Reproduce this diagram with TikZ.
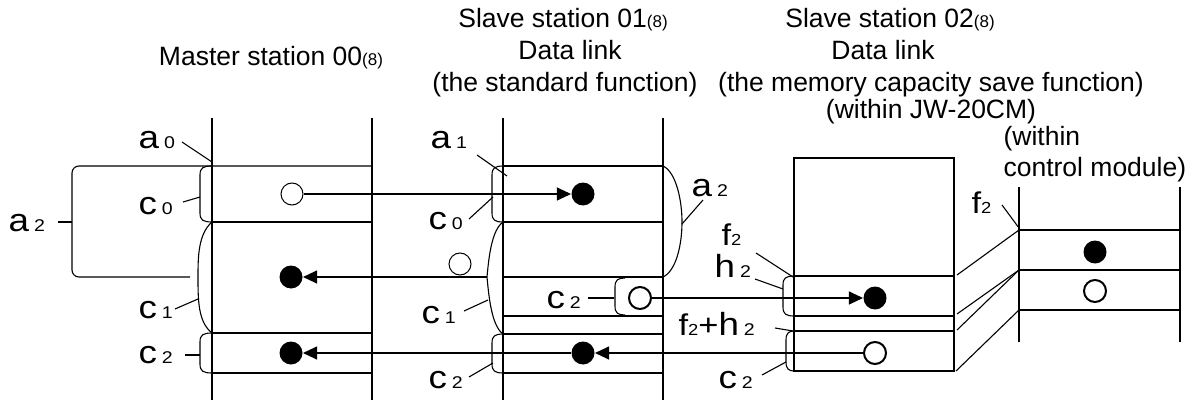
\documentclass[tikz,border=0pt]{standalone}
\usepackage{fontspec}
\setmainfont{Liberation Sans}
\newfontfamily\labfont[FakeStretch=1.15]{Liberation Sans}
\usetikzlibrary{arrows.meta}
\newcommand{\lbl}[2]{{\labfont\fontsize{32}{32}\selectfont #1}\hspace{5pt}{\labfont\fontsize{17}{17}\selectfont #2}}
\newcommand{\lblt}[2]{{\labfont\fontsize{30}{30}\selectfont #1}{\labfont\fontsize{16}{16}\selectfont #2}}
\newcommand{\octal}{{\fontsize{17}{17}\selectfont(8)}}
\newcommand{\brk}[4]{% xr, ytop, ybottom, xleft
  \draw (#1,#2) .. controls (#4+3,#2) and (#4,#2+2) .. (#4,#2+9) -- (#4,#3-9) .. controls (#4,#3-2) and (#4+3,#3) .. (#1,#3);}
\begin{document}
\begin{tikzpicture}[x=1pt,y=-1pt, line width=1.1pt,
  hv/.style={line width=2.2pt},
  dotf/.style={circle,fill,inner sep=0,minimum size=23pt},
  doto/.style={circle,draw,inner sep=0,minimum size=22pt,line width=1pt},
  dotO/.style={circle,draw,inner sep=0,minimum size=22pt,line width=2pt},
  arr/.style={-{Triangle[length=14pt,width=13pt]}},
  lab/.style={inner sep=0, anchor=base west},
  ttl/.style={inner sep=0, anchor=base, font=\fontsize{26.5}{26.5}\selectfont},
  ttlw/.style={inner sep=0, anchor=base west, font=\fontsize{26.5}{26.5}\selectfont}
]
\useasboundingbox (0,0) rectangle (1196,401);

% ---------- titles ----------
\node[ttl] (tm) at (271,66) {Master station 00\octal};
\node[ttl] (t1a) at (563,28) {Slave station 01\octal};
\node[ttl] (t1b) at (570,60) {Data link};
\node[ttl] (t1c) at (565,92) {(the standard function)};
\node[ttl] (t2a) at (890,28) {Slave station 02\octal};
\node[ttl] (t2b) at (883,60) {Data link};
\node[ttl] (t2c) at (931,92) {(the memory capacity save function)};
\node[ttl] (t2d) at (931,119) {(within JW-20CM)};
\node[ttlw] (t3a) at (1003,146) {(within};
\node[ttlw] (t3b) at (1003,176) {control module)};

% ---------- master station ----------
\draw (212,118) -- (212,400);
\draw (372,118) -- (372,400);
\draw[rounded corners=7pt] (372,166) -- (72,166) -- (72,277) -- (190,277);
\draw (58,222) -- (72,222);
\draw[hv] (212,222) -- (372,222);
\draw[hv] (212,333) -- (372,333);
\draw (212,373) -- (372,373);
\brk{212}{166}{222}{200}
\draw (212,222) .. controls (198,234) and (198,258) .. (198,277) .. controls (198,300) and (198,322) .. (212,333);
\brk{212}{333}{373}{200}

\node[lab] (la0) at (138,148) {\lbl{a}{0}};
\node[lab] (lmc0) at (138,214) {\lbl{c}{0}};
\node[lab] (lmc1) at (138,318) {\lbl{c}{1}};
\node[lab] (lmc2) at (138,363) {\lbl{c}{2}};
\node[lab] (lma2) at (8,231) {\lbl{a}{2}};
\draw (182,142) -- (212,162);
\draw (183,202) -- (200,197);
\draw (175,309) -- (198,299);
\draw (185,355) -- (200,355);

\node[doto] (mo) at (292,194) {};
\node[dotf] (mf1) at (291,277) {};
\node[dotf] (mf2) at (291,353) {};

% ---------- slave station 01 ----------
\draw (503,118) -- (503,400);
\draw (663,118) -- (663,400);
\draw (503,166) -- (663,166);
\draw[hv] (503,222) -- (663,222);
\draw (503,277) -- (663,277);
\draw (503,316) -- (663,316);
\draw[hv] (503,334) -- (663,334);
\draw (503,373) -- (663,373);
\brk{503}{166}{222}{492}
\coordinate (s1tip) at (487,277);
\draw (503,222) .. controls (492,230) and (489,255) .. (s1tip) .. controls (489,299) and (492,326) .. (503,334);
\brk{503}{334}{373}{492}
\draw (663,166) .. controls (676,172) and (682,200) .. (682,222) .. controls (682,245) and (676,271) .. (663,277);
\brk{625}{278}{315}{615}

\node[lab] (la1) at (430,148) {\lbl{a}{1}};
\node[lab] (lsc0) at (428,229) {\lbl{c}{0}};
\node[lab] (lsc1) at (421,323) {\lbl{c}{1}};
\node[lab] (lsc2) at (428,388) {\lbl{c}{2}};
\node[lab] (lsc2i) at (546,308) {\lbl{c}{2}};
\node[lab] (lsa2) at (691,196) {\lbl{a}{2}};
\draw (477,155) -- (507,176);
\draw (469,219) -- (493,197);
\draw (464,311) -- (488,300);
\draw (469,377) -- (493,363);
\draw (588,298) -- (614,298);
\draw (703,200) -- (682,224);

\node[dotf] (s1f0) at (583,194) {};
\node[doto] (s1o) at (460,264) {};
\node[dotO] (s1oc2) at (640,298) {};
\node[dotf] (s1f2) at (583,353) {};

% ---------- slave station 02 ----------
\draw (794,158) rectangle (954,371);
\draw (794,276) -- (954,276);
\draw (794,316) -- (954,316);
\draw (794,331) -- (954,331);
\brk{794}{276}{316}{783}
\brk{794}{331}{371}{786}

\node[lab] (lf2) at (721,245) {\lblt{f}{2}};
\node[lab] (lh2) at (714,277) {\lbl{h}{2}};
\node[lab] (lfh) at (678,335) {\lblt{f}{2}\lblt{+}{}\lbl{h}{2}};
\node[lab] (l2c2) at (718,388) {\lbl{c}{2}};
\draw (756,253) -- (793,277);
\draw (755,279) -- (783,289);
\draw (775,328) -- (793,331);
\draw (762,375) -- (786,362);

\node[dotf] (s2f) at (875,298) {};
\node[dotO] (s2o) at (875,353) {};

% ---------- control module ----------
\draw (1019,187) -- (1019,342);
\draw (1180,187) -- (1180,342);
\draw (1019,230) -- (1180,230);
\draw (1019,270) -- (1180,270);
\draw (1019,310) -- (1180,310);
\node[lab] (lcf2) at (971,213) {\lblt{f}{2}};
\draw (1002,205) -- (1019,228);

\node[dotf] (cf) at (1095,252) {};
\node[dotO] (co) at (1095,291) {};

\coordinate (d1a) at (957,275);
\coordinate (d2a) at (957,314);
\coordinate (d3a) at (957,330);
\coordinate (d4a) at (956,371);
\coordinate (d1b) at (1019,230);
\coordinate (d2b) at (1019,270);
\coordinate (d4b) at (1019,310);
\draw (d1a) -- (d1b);
\draw (d2a) -- (d2b);
\draw (d3a) -- (d2b);
\draw (d4a) -- (d4b);

% ---------- data flow ----------
\draw[arr] (mo) -- (s1f0);
\draw[arr] (s1tip) -- (mf1);
\draw[arr] (s1oc2) -- (s2f);
\draw[arr] (s2o) -- (s1f2);
\draw[arr] (s1f2) -- (mf2);
\end{tikzpicture}
\end{document}
